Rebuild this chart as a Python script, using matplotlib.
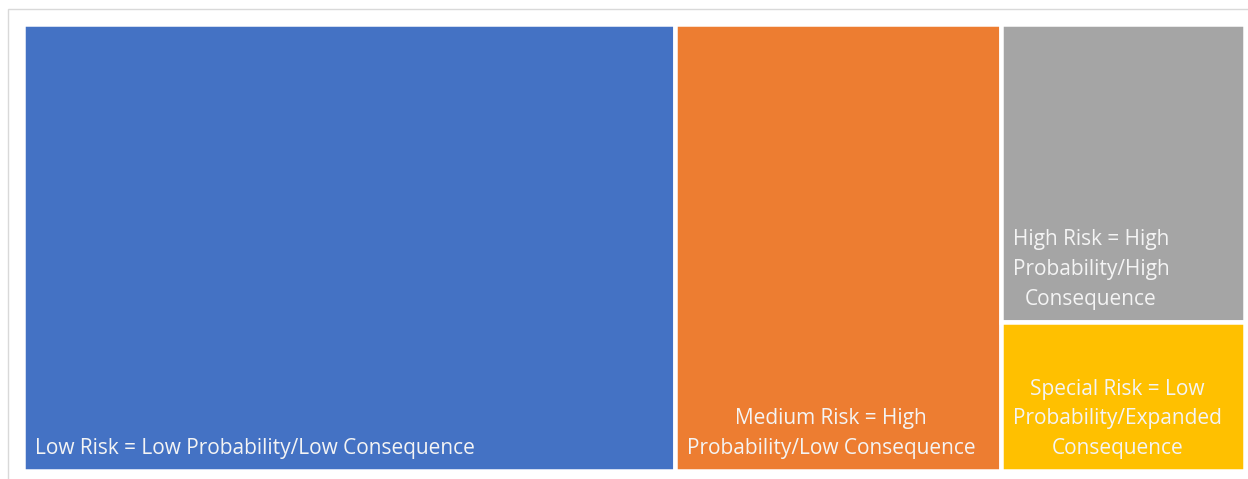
import matplotlib.pyplot as plt
from matplotlib.patches import Rectangle

labels = ["Low Risk = Low Probability/Low Consequence",
          "Medium Risk = High\nProbability/Low Consequence",
          "High Risk = High\nProbability/High\nConsequence",
          "Special Risk = Low\nProbability/Expanded\nConsequence"]
values = [8, 4, 2, 1]
colors = ["#4472C4", "#ED7D31", "#A5A5A5", "#FFC000"]
# which column each item sits in (left to right), stacked top to bottom
columns = [[0], [1], [2, 3]]

W, H = 1248, 479
fig = plt.figure(figsize=(W / 100, H / 100), dpi=100)

# chart-area frame
fig.patches.append(Rectangle((7.5 / W, -0.1), 1.2, (H - 8.5) / H + 0.1,
                             transform=fig.transFigure, fill=False,
                             edgecolor="#D9D9D9", linewidth=1.0))

gap = 4.5
x0, x1 = 25 - gap / 2, 1243 + gap / 2
y0, y1 = 469 + gap / 2, 26 - gap / 2
ax = fig.add_axes([x0 / W, (H - y0) / H, (x1 - x0) / W, (y0 - y1) / H])
ax.set_xlim(0, 1)
ax.set_ylim(0, 1)
ax.axis("off")

total = sum(values)
px_w = 1 / (x1 - x0)
px_h = 1 / (y0 - y1)
left = 0.0
for col in columns:
    col_sum = sum(values[i] for i in col)
    w = col_sum / total
    top = 1.0
    for i in col:
        h = values[i] / col_sum
        bottom = top - h
        ax.add_patch(Rectangle((left, bottom), w, h, facecolor=colors[i],
                               edgecolor="white", linewidth=gap * 0.72))
        ax.text(left + 12 * px_w, bottom + 12 * px_h, labels[i],
                ha="left", va="bottom", multialignment="center",
                color="#F4F4F4", fontsize=15, family="Open Sans",
                linespacing=1.55)
        top = bottom
    left += w

fig.savefig("out.png", dpi=100)
